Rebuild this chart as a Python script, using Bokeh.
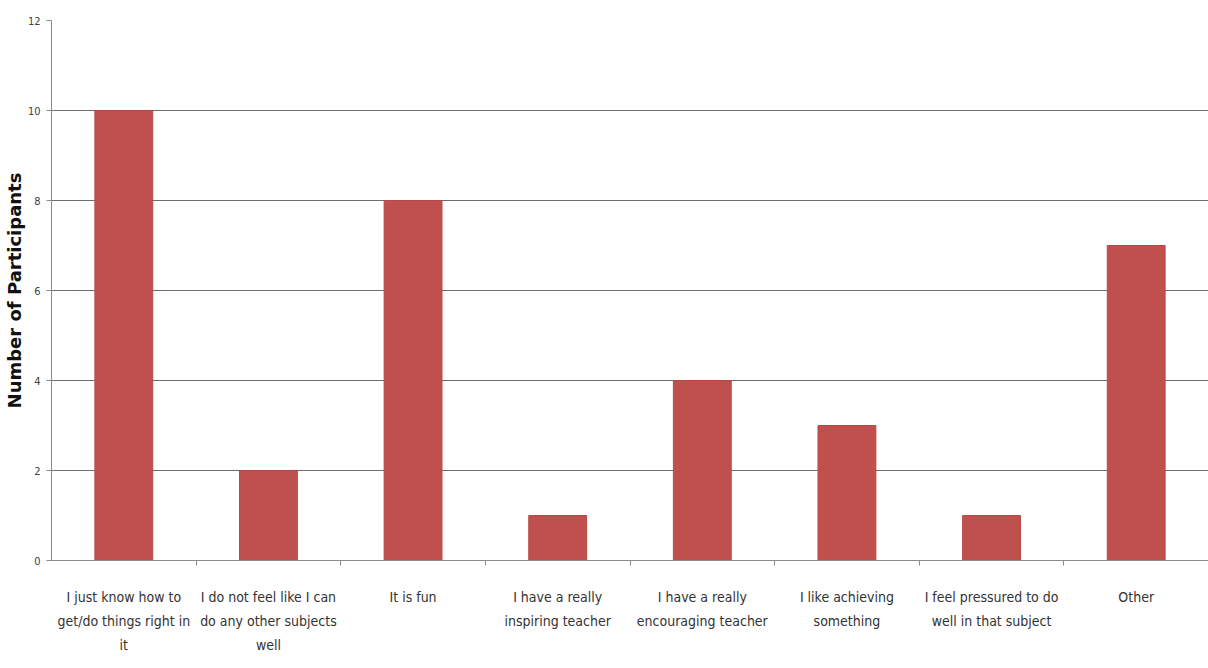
from bokeh.plotting import figure
from bokeh.models import (Range1d, LinearAxis, FixedTicker, ColumnDataSource)
from bokeh.embed import file_html
from bokeh.resources import INLINE

categories = [
    "I just know how to get/do things right in it",
    "I do not feel like I can do any other subjects well",
    "It is fun",
    "I have a really inspiring teacher",
    "I have a really encouraging teacher",
    "I like achieving something",
    "I feel pressured to do well in that subject",
    "Other",
]
tick_labels = [
    "I just know how to\nget/do things right in\nit",
    "I do not feel like I can\ndo any other subjects\nwell",
    "It is fun",
    "I have a really\ninspiring teacher",
    "I have a really\nencouraging teacher",
    "I like achieving\nsomething",
    "I feel pressured to do\nwell in that subject",
    "Other",
]
participants = [10, 2, 8, 1, 4, 3, 1, 7]
y_ticks = [0, 2, 4, 6, 8, 10, 12]

n_cat = len(categories)
centers = [i + 0.5 for i in range(n_cat)]
edges = list(range(1, n_cat))

source = ColumnDataSource(dict(x=centers, n=participants, cat=categories))

LABEL_FONT = "'DejaVu Sans Condensed', 'Liberation Sans', sans-serif"

p = figure(width=1208, height=668, output_backend="svg", toolbar_location=None,
           x_range=Range1d(0, n_cat), y_range=Range1d(0, 12),
           x_axis_location=None, y_axis_location=None,
           min_border_left=49, min_border_right=0, min_border_top=20,
           min_border_bottom=108)
p.outline_line_color = None
p.background_fill_color = "white"
p.border_fill_color = "white"

p.vbar(x="x", top="n", width=0.40, source=source,
       fill_color="#C0504D", line_color="#B64946", line_width=1)

# y axis
yax = LinearAxis(ticker=FixedTicker(ticks=y_ticks))
yax.axis_line_color = "#8a8a8a"
yax.major_tick_line_color = "#8a8a8a"
yax.major_tick_out = 5
yax.major_tick_in = 0
yax.minor_tick_line_color = None
yax.major_label_text_font = LABEL_FONT
yax.major_label_text_font_size = "11px"
yax.major_label_text_color = "#404040"
yax.major_label_standoff = 6
yax.axis_label = "Number of Participants"
yax.axis_label_text_font = "DejaVu Sans"
yax.axis_label_text_font_style = "bold"
yax.axis_label_text_font_size = "18px"
yax.axis_label_text_line_height = 1.0
yax.axis_label_text_color = "#111111"
yax.axis_label_standoff = 0
p.add_layout(yax, "left")

# x axis: labels at category centres, tick marks at category boundaries
xax = LinearAxis(ticker=FixedTicker(ticks=centers, minor_ticks=edges))
xax.axis_line_color = "#8a8a8a"
xax.major_tick_line_color = None
xax.minor_tick_line_color = "#8a8a8a"
xax.minor_tick_out = 5
xax.minor_tick_in = 0
xax.major_label_overrides = {c: t for c, t in zip(centers, tick_labels)}
xax.major_label_text_font = LABEL_FONT
xax.major_label_text_font_size = "14px"
xax.major_label_text_color = "#333333"
xax.major_label_text_line_height = 1.5
xax.major_label_standoff = 22
xax.major_label_orientation = "horizontal"
p.add_layout(xax, "below")

p.xgrid.grid_line_color = None
p.ygrid.ticker = FixedTicker(ticks=y_ticks)
p.ygrid.grid_line_color = "#6e6e6e"
p.ygrid.grid_line_width = 1

open("out.html", "w").write(file_html(p, INLINE))
